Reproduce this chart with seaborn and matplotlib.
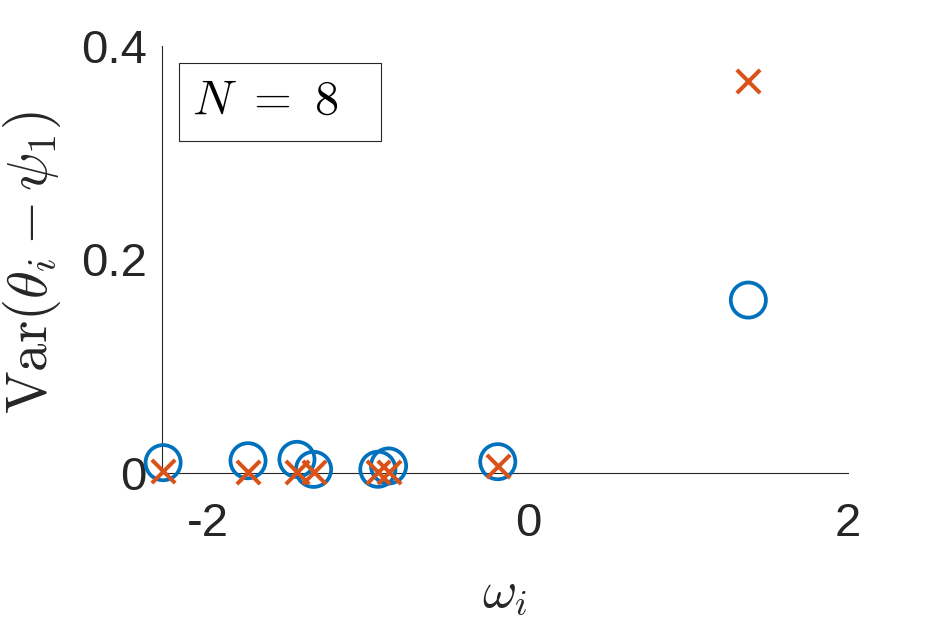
import numpy as np
import pandas as pd
import seaborn as sns
import matplotlib.pyplot as plt
from matplotlib.patches import Rectangle

# frequencies omega_i and the two variance series
omega = [-2.283, -1.752, -1.446, -1.342, -0.940, -0.873, -0.190, 1.377]
var_circle = [0.0097, 0.0115, 0.0128, 0.0034, 0.0035, 0.0066, 0.0106, 0.162]
var_cross = [0.0015, 0.0010, 0.0010, 0.0010, 0.0012, 0.0012, 0.0066, 0.367]

x_ticks = [-2, 0, 2]
y_ticks = [0, 0.2, 0.4]
y_tick_labels = ['0', '0.2', '0.4']

sns.set_style('white')
plt.rcParams['font.family'] = ['Liberation Sans', 'DejaVu Sans']
plt.rcParams['mathtext.fontset'] = 'cm'
plt.rcParams['axes.unicode_minus'] = False

df = pd.DataFrame({'omega': omega, 'circle': var_circle, 'cross': var_cross})

fig = plt.figure(figsize=(9.38, 6.25), dpi=100)
ax = fig.add_axes([0.1727, 0.2432, 0.904 - 0.1727, 0.9264 - 0.2432])

sns.scatterplot(data=df, x='omega', y='circle', ax=ax, marker='o', s=640,
                facecolors='none', edgecolor='#0072BD', linewidth=2.7,
                clip_on=False, zorder=3)
sns.scatterplot(data=df, x='omega', y='cross', ax=ax, marker='x', s=280,
                color='#D95319', linewidth=2.9, clip_on=False, zorder=4)

ax.set_xlim(-2.29, 2)
ax.set_ylim(0, 0.4)
ax.set_xticks(x_ticks)
ax.set_yticks(y_ticks)
ax.set_yticklabels(y_tick_labels)

for side in ['top', 'right']:
    ax.spines[side].set_visible(False)
for side in ['left', 'bottom']:
    ax.spines[side].set_color('#262626')
    ax.spines[side].set_linewidth(0.8)

ax.tick_params(direction='in', length=7, width=0.8, colors='#262626',
               labelsize=34)
ax.tick_params(axis='y', pad=11)
ax.tick_params(axis='x', pad=21)

ax.set_xlabel(r'$\omega_i$', fontsize=38, color='#262626', labelpad=16)
ax.set_ylabel(r'$\mathrm{Var}(\theta_i - \psi_1)$', fontsize=41,
              color='#262626')
ax.yaxis.set_label_coords(-0.145, 0.494)

# legend-like annotation box
ax.add_patch(Rectangle((0.0248, 0.7775), 0.2945, 0.1827,
                       transform=ax.transAxes, facecolor='white',
                       edgecolor='#262626', linewidth=0.8, zorder=5))
ax.text(0.0437, 0.8407, r'$N\ =\ 8$', transform=ax.transAxes, fontsize=35,
        va='baseline', ha='left', color='black', zorder=6)

fig.savefig('out.png', dpi=100)
